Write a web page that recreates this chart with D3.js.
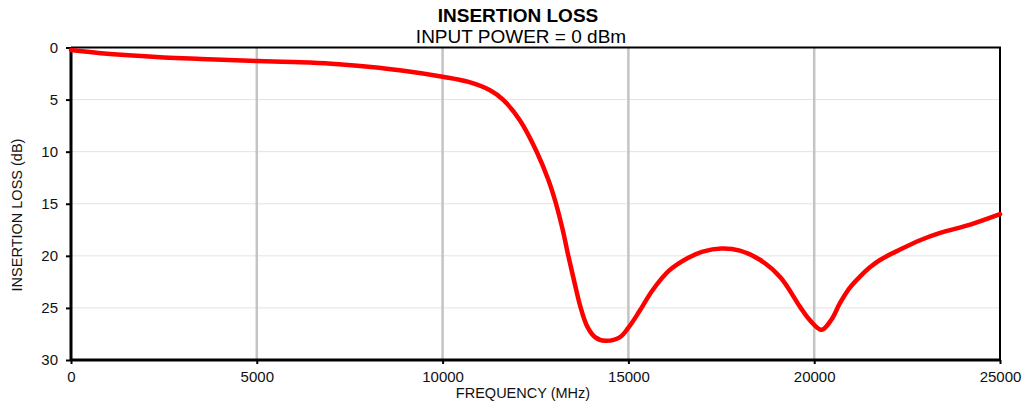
<!DOCTYPE html>
<html><head><meta charset="utf-8">
<script src="https://cdn.jsdelivr.net/npm/d3@7"></script>
<style>body{margin:0;background:#fff}svg{display:block;font-family:"Liberation Sans",Arial,sans-serif}</style>
</head><body><svg id="c" width="1024" height="404"></svg>
<script>
const freqMHz = [0,800,2500,3500,5000,6000,7000,8000,9000,10000,10700,11276,11625,12083,12532,12845,13052,13232,13383,13545,13717,13894,14101,14370,14775,15000,15300,15650,16100,16600,17000,17500,18000,18550,19100,19620,19890,20200,20450,20700,20950,21230,21500,21770,22310,22850,23390,24200,25000];
const lossDb  = [0.25,0.55,0.95,1.1,1.3,1.4,1.55,1.85,2.25,2.8,3.3,4.1,5.0,7.0,10.0,12.7,15.0,17.5,20.0,22.5,25.0,26.8,27.8,28.15,27.8,26.9,25.3,23.3,21.4,20.2,19.6,19.3,19.5,20.4,22.1,24.9,26.2,27.1,26.2,24.5,23.1,22.0,21.1,20.4,19.4,18.5,17.8,17.0,16.0];
const xTicks = [0,5000,10000,15000,20000,25000];
const yTicks = [0,5,10,15,20,25,30];
const titleText = "INSERTION LOSS";
const subtitleText = "INPUT POWER = 0 dBm";
const xLabel = "FREQUENCY (MHz)";
const yLabel = "INSERTION LOSS (dB)";

const svg = d3.select("#c");
const L=71,R=1000,T=47.5,B=360;
const x = d3.scaleLinear().domain([0,25000]).range([L,R]);
const y = d3.scaleLinear().domain([0,30]).range([T,B]);

svg.append("g").selectAll("line").data(yTicks.filter(v=>v>0&&v<30)).join("line")
  .attr("x1",L).attr("x2",R).attr("y1",d=>y(d)).attr("y2",d=>y(d))
  .attr("stroke","#e3e3e3").attr("stroke-width",1);
svg.append("g").selectAll("line").data(xTicks.filter(v=>v>0&&v<25000)).join("line")
  .attr("x1",d=>x(d)).attr("x2",d=>x(d)).attr("y1",T).attr("y2",B)
  .attr("stroke","#c4c4c4").attr("stroke-width",2.5);

svg.append("path").attr("d",`M${L},${T}H${R}V${B}`).attr("fill","none").attr("stroke","#000").attr("stroke-width",2);

const xAxis = d3.axisBottom(x).tickValues(xTicks).tickFormat(d3.format("d")).tickSize(4).tickPadding(7);
const gx = svg.append("g").attr("transform",`translate(0,${B})`).call(xAxis);
gx.select(".domain").attr("stroke-width",3).attr("d",`M${L},0H${R}`);
gx.selectAll(".tick line").attr("stroke-width",2);
gx.selectAll("text").attr("font-size",15).attr("font-family","Liberation Sans, Arial").attr("fill","#111");

const yAxis = d3.axisLeft(y).tickValues(yTicks).tickSize(5).tickPadding(8);
const gy = svg.append("g").attr("transform",`translate(${L},0)`).call(yAxis);
gy.select(".domain").attr("stroke-width",3).attr("d",`M0,${T}V${B}`);
gy.selectAll(".tick line").attr("stroke-width",2);
gy.selectAll("text").attr("font-size",15).attr("font-family","Liberation Sans, Arial").attr("fill","#111");

const data = freqMHz.map((f,i)=>[f,lossDb[i]]);
svg.append("path").datum(data)
  .attr("d",d3.line().x(d=>x(d[0])).y(d=>y(d[1])).curve(d3.curveCatmullRom.alpha(0.5)))
  .attr("fill","none").attr("stroke","#ff0000").attr("stroke-width",4.5).attr("stroke-linejoin","round").attr("stroke-linecap","round");

svg.append("text").attr("x",518).attr("y",22).attr("text-anchor","middle")
  .attr("font-size",19).attr("font-weight","bold").attr("fill","#000").text(titleText);
svg.append("text").attr("x",521).attr("y",43).attr("text-anchor","middle")
  .attr("font-size",19).attr("fill","#000").text(subtitleText);
svg.append("text").attr("x",523).attr("y",398).attr("text-anchor","middle")
  .attr("font-size",14.5).attr("fill","#111").text(xLabel);
svg.append("text").attr("transform","translate(22,215) rotate(-90)").attr("text-anchor","middle")
  .attr("font-size",14.5).attr("fill","#111").text(yLabel);
</script></body></html>
